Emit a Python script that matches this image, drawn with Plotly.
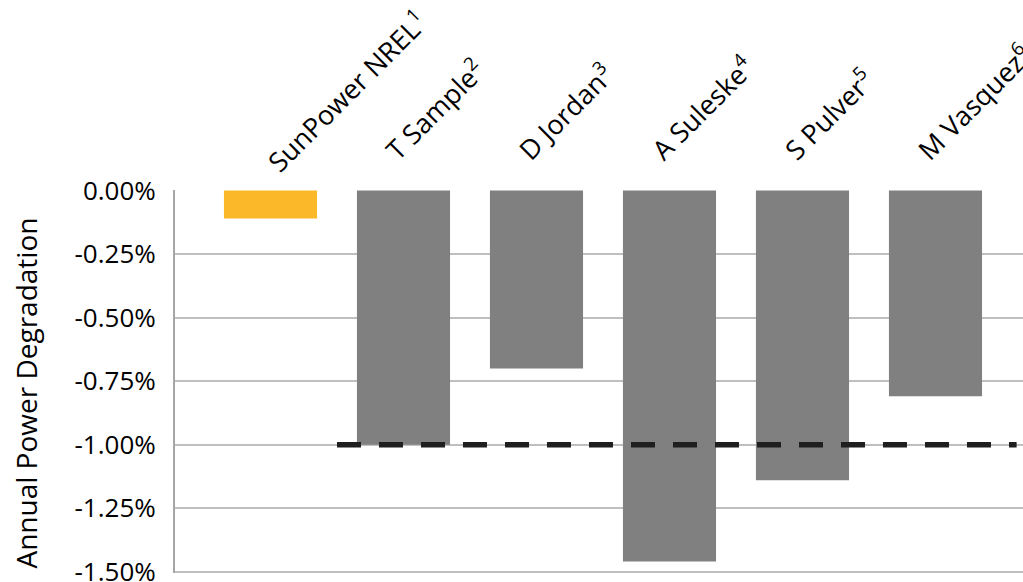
import plotly.graph_objects as go

# ---- data ----
categories = ["SunPower NREL<sup>1</sup>", "T Sample<sup>2</sup>", "D Jordan<sup>3</sup>",
              "A Suleske<sup>4</sup>", "S Pulver<sup>5</sup>", "M Vasquez<sup>6</sup>"]
degradation = [-0.0011, -0.0100, -0.0070, -0.0146, -0.0114, -0.0081]
bar_colors = ["#FBB829", "#808080", "#808080", "#808080", "#808080", "#808080"]
ref_x = [0.5, 5.61]
ref_y = [-0.01, -0.01]
y_ticks = [0, -0.0025, -0.005, -0.0075, -0.01, -0.0125, -0.015]
y_ticktext = ["0.00%", "-0.25%", "-0.50%", "-0.75%", "-1.00%", "-1.25%", "-1.50%"]
y_title = "Annual Power Degradation"

FONT = "Open Sans"
positions = list(range(len(categories)))
X_RANGE = [-0.718, 5.658]

fig = go.Figure()
fig.add_trace(go.Bar(x=positions, y=degradation, marker_color=bar_colors,
                     marker_line_width=0, width=0.7, hoverinfo="skip"))
fig.add_trace(go.Scatter(x=ref_x, y=ref_y, mode="lines", xaxis="x2",
                         line=dict(color="#1f1f1f", width=5.5, dash="24px,18px"),
                         hoverinfo="skip"))

common_x = dict(
    side="top", range=X_RANGE, tickmode="array", tickangle=-45,
    showgrid=False, zeroline=False, showline=False, ticks="",
    tickfont=dict(family=FONT, size=27, color="#000000"),
    ticklabeloverflow="allow", automargin=False,
)

fig.update_layout(
    width=1023, height=582,
    margin=dict(l=175, r=0, t=190, b=9),
    paper_bgcolor="white", plot_bgcolor="white",
    showlegend=False,
    font=dict(family=FONT, color="#000000", size=22),
    xaxis=dict(tickvals=positions[:1], ticktext=categories[:1],
               ticklabelstandoff=6, **common_x),
    xaxis2=dict(tickvals=positions[1:], ticktext=categories[1:], overlaying="x",
                anchor="y", ticklabelstandoff=18, ticklabelshift=-15, **common_x),
    yaxis=dict(
        range=[-0.01505, 0.00002], tickmode="array", tickvals=y_ticks, ticktext=y_ticktext,
        showgrid=True, gridcolor="#bfbfbf", gridwidth=1.5,
        zeroline=False, showline=True, linecolor="#a6a6a6", linewidth=2,
        ticks="", ticklabelstandoff=12, ticklabeloverflow="allow",
        tickfont=dict(family=FONT, size=26, color="#000000"),
        automargin=False,
    ),
    annotations=[dict(
        text=y_title, textangle=-90, xref="paper", yref="paper",
        x=-0.1757, y=0.4686, xanchor="center", yanchor="middle", showarrow=False,
        font=dict(family=FONT, size=28, color="#000000"),
    )],
)

fig.write_html("out.html")
